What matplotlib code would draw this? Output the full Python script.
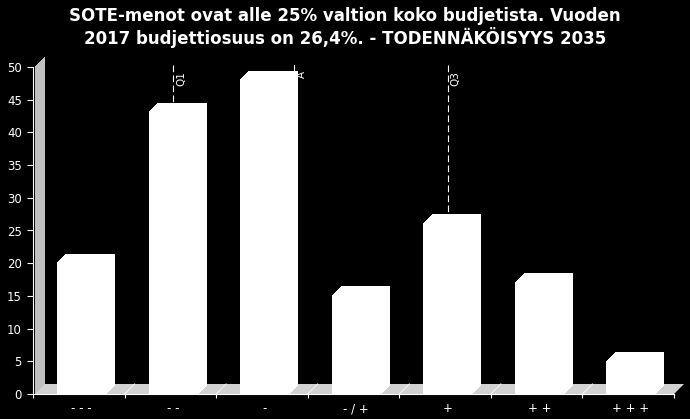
import numpy as np
import matplotlib
matplotlib.use('Agg')
import matplotlib.pyplot as plt
from matplotlib.patches import Polygon

# data
categories = ['- - -', '- -', '-', '- / +', '+', '+ +', '+ + +']
counts = [20, 43, 48, 15, 26, 17, 5]
title = ('SOTE-menot ovat alle 25% valtion koko budjetista. Vuoden\n'
         '2017 budjettiosuus on 26,4%. - TODENNÄKÖISYYS 2035')

W, H = 690, 419
DEPTH_BAR = 9     # 3d depth of bars, px
DEPTH_WALL = 10   # 3d depth of floor / wall, px
BAR_W = 0.524
SHIFT = 0.03      # bars sit a touch right of the category centre

fig = plt.figure(figsize=(W / 100, H / 100), dpi=100, facecolor='black')
ax = fig.add_axes([33 / W, 25 / H, 641 / W, 327 / H])
ax.set_facecolor('black')
ax.set_xlim(-0.5, len(categories) - 0.5)
ax.set_ylim(0, 50)

x = np.arange(len(categories))
v = np.array(counts, dtype=float)


def to_px(px, py):
    return ax.transData.transform((px, py))


def prism(x0, x1, y0, y1, d, color, z, dx0=0):
    """front rectangle extruded up/right by d pixels, drawn in display coords"""
    a = to_px(x0, y0) + (dx0, 0)
    b = to_px(x1, y1) + (dx0, 0)
    pts = [(a[0], a[1]), (a[0], b[1]), (a[0] + d, b[1] + d), (b[0] + d, b[1] + d),
           (b[0] + d, a[1] + d), (b[0], a[1])]
    p = Polygon(pts, closed=True, transform=None, facecolor=color,
                edgecolor='none', zorder=z, antialiased=False)
    fig.add_artist(p)


# wall and floor
prism(-0.5, -0.5, 0, 50, DEPTH_WALL, '#c0c0c0', 1, dx0=2)
a = to_px(-0.5, 0) + (2, 0)
b = to_px(len(categories) - 0.5, 0)
floor = Polygon([(a[0], a[1]), (a[0] + DEPTH_WALL, a[1] + DEPTH_WALL),
                 (b[0] + DEPTH_WALL, b[1] + DEPTH_WALL), (b[0], b[1])],
                closed=True, transform=None, facecolor='#d2d2d2',
                edgecolor='none', zorder=1)
fig.add_artist(floor)
for k in np.arange(0.5, len(categories) - 0.5, 1.0):
    p = to_px(k, 0)
    fig.add_artist(plt.Line2D([p[0], p[0] + DEPTH_WALL], [p[1], p[1] + DEPTH_WALL],
                              transform=None, color='#f2f2f2', lw=0.8, zorder=2))

# bars
for xi, vi in zip(x + SHIFT, v):
    prism(xi - BAR_W / 2, xi + BAR_W / 2, 0, vi, DEPTH_BAR, 'white', 3)

# quartile / mean markers
share = np.cumsum(v) / v.sum()
q1 = int(np.argmax(share >= 0.25))
q3 = int(np.argmax(share >= 0.75))
mean = (x * v).sum() / v.sum()

top = to_px(0, 50)[1] + 2


def marker(pos, label, ls):
    px = to_px(pos + SHIFT, 0)[0]
    i = int(round(pos))
    bar_top = to_px(0, v[i])[1] + DEPTH_BAR
    fig.add_artist(plt.Line2D([px, px], [top, bar_top], transform=None,
                              color='white', lw=0.8, linestyle=ls, zorder=5))
    fig.text((px + 3) / W, (top - 6) / H, label, rotation=90, color='white',
             fontsize=7.5, ha='left', va='top')


marker(q1, 'Q1', (0, (6, 3)))
marker(q3, 'Q3', (0, (6, 3)))
marker(mean, 'A', '-')

# axes styling
for s in ['top', 'right']:
    ax.spines[s].set_visible(False)
for s in ['left', 'bottom']:
    ax.spines[s].set_color('white')
    ax.spines[s].set_linewidth(0.8)
    ax.spines[s].set_zorder(6)
ax.set_yticks(np.arange(0, 51, 5))
ax.tick_params(axis='y', colors='white', labelsize=8.5, length=4, width=0.8, pad=4)
ax.set_xticks(x + SHIFT)
ax.set_xticklabels(categories)
ax.set_xticks(np.arange(-0.5, len(categories), 1.0), minor=True)
ax.tick_params(axis='x', which='major', colors='white', labelsize=8.5, length=0, pad=6)
ax.tick_params(axis='x', which='minor', colors='white', length=3, width=0.8)

fig.text(0.5, 1 - 7 / H, title, ha='center', va='top', color='white',
         fontsize=12, fontweight='bold', linespacing=1.1)

fig.savefig('out.png', dpi=100, facecolor='black')
